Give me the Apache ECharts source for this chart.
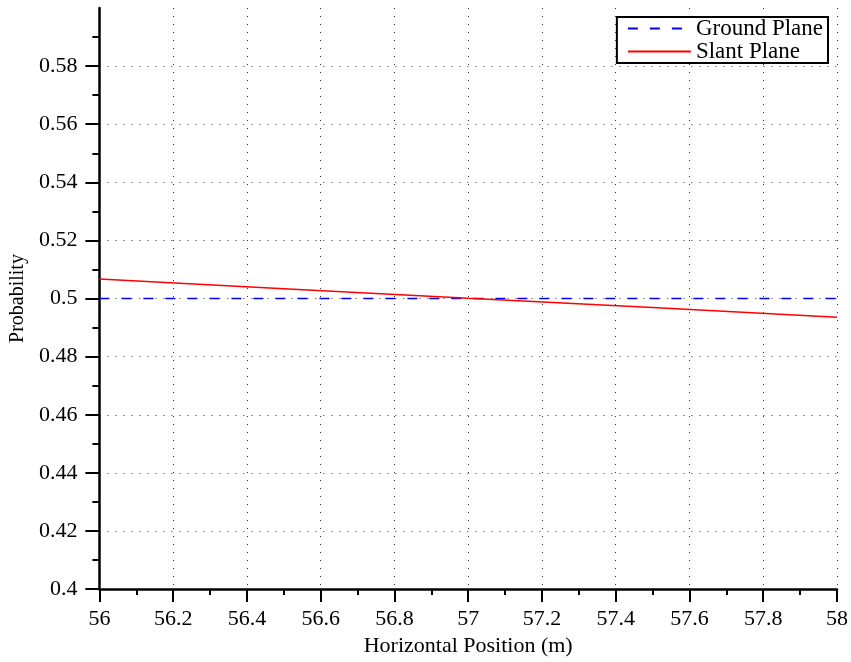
<!DOCTYPE html>
<html>
<head>
<meta charset="utf-8">
<script src="https://cdn.jsdelivr.net/npm/echarts@6/dist/echarts.min.js"></script>
<style>
  html, body { margin: 0; padding: 0; background: #fff; }
  #chart { width: 851px; height: 662px; }
</style>
</head>
<body>
<div id="chart"></div>
<script>
// Horizontal positions (m) where the probabilities were sampled
const xPositions = [56, 56.5, 57, 57.5, 58];
// Probability for the ground-plane model
const groundPlane = [0.5, 0.5, 0.5, 0.5, 0.5];
// Probability for the slant-plane model
const slantPlane = [0.5067, 0.5034, 0.5001, 0.4969, 0.4936];
// Labelled y ticks (0.6 is the axis end but carries no tick)
const yTickValues = [0.4, 0.42, 0.44, 0.46, 0.48, 0.5, 0.52, 0.54, 0.56, 0.58];

const seriesNames = ['Ground Plane', 'Slant Plane'];

const serif = 'Liberation Serif';
const dotted = { color: '#333', width: 1, type: [1, 7] };

const chart = echarts.init(document.getElementById('chart'), null, { renderer: 'canvas' });

chart.setOption({
  animation: false,
  backgroundColor: '#fff',
  grid: { left: 98, right: 13, top: 8, bottom: 70, containLabel: false },
  legend: {
    data: seriesNames,
    orient: 'vertical',
    right: 23,
    top: 17,
    backgroundColor: '#fff',
    borderColor: '#000',
    borderWidth: 2,
    borderRadius: 0,
    padding: [0, 5, 0, 10],
    itemGap: 0,
    itemWidth: 63,
    itemHeight: 16,
    itemStyle: { opacity: 0 },
    textStyle: { fontFamily: serif, fontSize: 23, color: '#000', lineHeight: 20 }
  },
  xAxis: {
    type: 'value',
    min: 56,
    max: 58,
    interval: 0.2,
    name: 'Horizontal Position (m)',
    nameLocation: 'middle',
    nameGap: 38,
    nameTextStyle: { fontFamily: serif, fontSize: 22, color: '#000' },
    axisLine: { show: true, onZero: false, lineStyle: { color: '#000', width: 2.5 } },
    axisTick: { show: true, inside: false, length: 13, lineStyle: { color: '#000', width: 2 } },
    minorTick: { show: true, splitNumber: 2, length: 6, lineStyle: { color: '#000', width: 2 } },
    axisLabel: { margin: 19, fontFamily: serif, fontSize: 22, color: '#000' },
    splitLine: { show: true, lineStyle: dotted }
  },
  yAxis: {
    type: 'value',
    min: 0.4,
    max: 0.6,
    interval: 0.02,
    name: 'Probability',
    nameLocation: 'middle',
    nameGap: 68,
    nameTextStyle: { fontFamily: serif, fontSize: 20, color: '#000' },
    axisLine: { show: true, onZero: false, lineStyle: { color: '#000', width: 2.5 } },
    axisTick: { show: true, inside: false, length: 14, customValues: yTickValues, lineStyle: { color: '#000', width: 2 } },
    minorTick: { show: true, splitNumber: 2, length: 7, lineStyle: { color: '#000', width: 2 } },
    axisLabel: {
      margin: 22, fontFamily: serif, fontSize: 22, color: '#000',
      customValues: yTickValues,
      formatter: v => String(+v.toFixed(2))
    },
    splitLine: { show: true, lineStyle: dotted }
  },
  series: [
    {
      name: seriesNames[0],
      type: 'line',
      data: xPositions.map((x, i) => [x, groundPlane[i]]),
      symbol: 'none',
      lineStyle: { color: '#0000ff', width: 1.5, type: [10, 12] },
      itemStyle: { color: '#0000ff' },
      z: 3
    },
    {
      name: seriesNames[1],
      type: 'line',
      data: xPositions.map((x, i) => [x, slantPlane[i]]),
      symbol: 'none',
      lineStyle: { color: '#ff0000', width: 1.5, type: 'solid' },
      itemStyle: { color: '#ff0000' },
      z: 4
    }
  ]
});
</script>
</body>
</html>
